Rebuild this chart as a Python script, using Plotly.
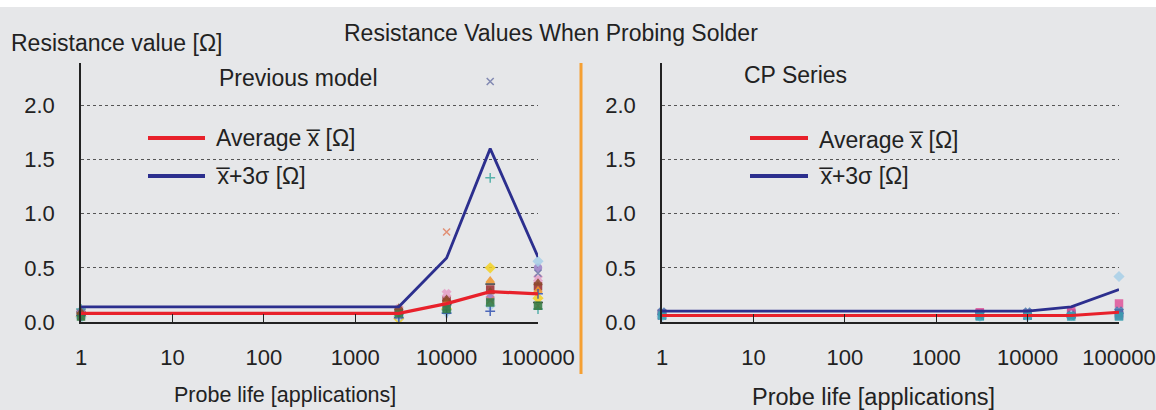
import plotly.graph_objects as go

# ---------------- data ----------------
probe_life = [1, 3000, 10000, 30000, 100000]
tick_vals = [1, 10, 100, 1000, 10000, 100000]
tick_text = ["1", "10", "100", "1000", "10000", "100000"]
y_ticks = [0.0, 0.5, 1.0, 1.5, 2.0]
y_tick_text = ["0.0", "0.5", "1.0", "1.5", "2.0"]

prev_avg = [0.08, 0.08, 0.17, 0.28, 0.26]
prev_3sigma = [0.14, 0.14, 0.59, 1.60, 0.60]
cp_avg = [0.06, 0.06, 0.06, 0.06, 0.09]
cp_3sigma = [0.10, 0.10, 0.10, 0.14, 0.30]

# individual probe readings, previous model
prev_p1 = [0.08, 0.10, 0.20, 0.30, 0.33]
prev_p2 = [0.06, 0.06, 0.18, 0.38, 0.29]
prev_p3 = [0.05, 0.03, 0.12, 0.50, 0.22]
prev_p4 = [0.09, 0.08, 0.16, 0.35, 0.18]
prev_p5 = [0.07, 0.12, 0.26, 0.25, 0.40]
prev_p6 = [0.10, 0.09, 0.14, 0.22, 0.50]
prev_p7 = [0.04, 0.05, 0.09, 0.15, 0.56]
prev_p8 = [0.12, 0.07, 0.11, 1.33, 0.12]
prev_p9 = [0.06, 0.04, 0.08, 0.10, 0.26]
prev_p10 = [0.05, 0.11, 0.83, 0.20, 0.15]
prev_p11 = [0.08, 0.06, 0.13, 2.22, 0.45]
prev_p12 = [0.05, 0.08, 0.12, 0.18, 0.15]
prev_p13 = [0.09, 0.13, 0.21, 0.28, 0.36]

# individual probe readings, CP series
cp_p1 = [0.07, 0.06, 0.06, 0.07, 0.08]
cp_p2 = [0.06, 0.08, 0.07, 0.08, 0.06]
cp_p3 = [0.08, 0.09, 0.08, 0.10, 0.17]
cp_p4 = [0.05, 0.05, 0.05, 0.06, 0.42]
cp_p5 = [0.09, 0.07, 0.09, 0.06, 0.10]
cp_p6 = [0.06, 0.05, 0.06, 0.05, 0.05]

prev_probes = [prev_p1, prev_p2, prev_p3, prev_p4, prev_p5, prev_p6, prev_p7,
               prev_p8, prev_p9, prev_p10, prev_p11, prev_p12, prev_p13]
prev_styles = [("#9b2d30", "square"), ("#f0962a", "triangle-up"), ("#f3d324", "diamond"),
               ("#1e1e1e", "line-ew-open"), ("#e7a0c8", "x"), ("#9a80c8", "circle"),
               ("#a8d0e8", "diamond"), ("#40a8a0", "cross-thin-open"), ("#3050b0", "cross-thin-open"),
               ("#e08060", "x-thin-open"), ("#7078a8", "x-thin-open"), ("#2f7a40", "square"),
               ("#8a4a2a", "triangle-up")]
cp_probes = [cp_p1, cp_p2, cp_p3, cp_p4, cp_p5, cp_p6]
cp_styles = [("#34408a", "square"), ("#7a5aa8", "square"), ("#e0559a", "square"),
             ("#a8d0e8", "diamond"), ("#4a78b0", "x"), ("#3aa0b0", "square")]

RED = "#e8212b"
BLUE = "#2c2f8e"
BG = "#e6e7e9"
FONT = "Liberation Sans, Arial, sans-serif"

fig = go.Figure()

for vals, (col, sym) in zip(prev_probes, prev_styles):
    fig.add_trace(go.Scatter(x=probe_life, y=vals, mode="markers", xaxis="x", yaxis="y",
                             marker=dict(color=col, symbol=sym, size=7, opacity=0.85,
                                         line=dict(color=col, width=1.5)),
                             showlegend=False, cliponaxis=False))
for vals, (col, sym) in zip(cp_probes, cp_styles):
    fig.add_trace(go.Scatter(x=probe_life, y=vals, mode="markers", xaxis="x2", yaxis="y2",
                             marker=dict(color=col, symbol=sym, size=7, opacity=0.85,
                                         line=dict(color=col, width=1.5)),
                             showlegend=False, cliponaxis=False))

fig.add_trace(go.Scatter(x=probe_life, y=prev_3sigma, mode="lines", xaxis="x", yaxis="y",
                         line=dict(color=BLUE, width=2.8), showlegend=False, cliponaxis=False))
fig.add_trace(go.Scatter(x=probe_life, y=prev_avg, mode="lines", xaxis="x", yaxis="y",
                         line=dict(color=RED, width=3.2), showlegend=False, cliponaxis=False))
fig.add_trace(go.Scatter(x=probe_life, y=cp_3sigma, mode="lines", xaxis="x2", yaxis="y2",
                         line=dict(color=BLUE, width=2.8), showlegend=False, cliponaxis=False))
fig.add_trace(go.Scatter(x=probe_life, y=cp_avg, mode="lines", xaxis="x2", yaxis="y2",
                         line=dict(color=RED, width=3.2), showlegend=False, cliponaxis=False))

W, H = 1156, 410
def px(x):
    return x / W
def py(y):
    return 1 - y / H

y_dom = [py(322), py(63)]
xaxis_common = dict(type="log", range=[0, 5], tickvals=tick_vals, ticktext=tick_text,
                    showline=True, linecolor="#222", linewidth=1.5, ticks="inside",
                    ticklen=8, tickcolor="#222", showgrid=False, zeroline=False,
                    automargin=False,
                    tickfont=dict(family=FONT, size=22, color="#222"), ticklabelstandoff=15)
yaxis_common = dict(range=[0, 2.39], tickvals=y_ticks, ticktext=y_tick_text,
                    showline=True, linecolor="#222", linewidth=1.5, ticks="",
                    showgrid=True, gridcolor="#555", griddash="dot", gridwidth=1,
                    zeroline=False, automargin=False,
                    tickfont=dict(family=FONT, size=22, color="#222"),
                    ticklabelstandoff=20, domain=y_dom)

fig.update_layout(
    width=W, height=H,
    margin=dict(l=0, r=0, t=0, b=0, pad=0, autoexpand=False),
    paper_bgcolor=BG, plot_bgcolor=BG,
    font=dict(family=FONT, color="#222"),
    xaxis=dict(domain=[px(81), px(538)], anchor="y", **xaxis_common),
    yaxis=dict(anchor="x", **yaxis_common),
    xaxis2=dict(domain=[px(662), px(1119)], anchor="y2", **xaxis_common),
    yaxis2=dict(anchor="x2", **yaxis_common),
)

shapes = [
    dict(type="rect", xref="paper", yref="paper", x0=0, x1=1, y0=py(7), y1=1,
         fillcolor="white", line=dict(width=0), layer="below"),
    dict(type="line", xref="paper", yref="paper", x0=px(581), x1=px(581), y0=py(374), y1=py(63),
         line=dict(color="#f5a033", width=3)),
]
# legend samples
for x0, x1 in [(148, 205), (750, 808)]:
    shapes.append(dict(type="line", xref="paper", yref="paper", x0=px(x0), x1=px(x1),
                       y0=py(138), y1=py(138), line=dict(color=RED, width=4)))
    shapes.append(dict(type="line", xref="paper", yref="paper", x0=px(x0), x1=px(x1),
                       y0=py(176), y1=py(176), line=dict(color=BLUE, width=4)))
fig.update_layout(shapes=shapes)

def ann(text, x, y, anchor="left", size=23):
    return dict(text=text, xref="paper", yref="paper", x=px(x), y=py(y), xanchor=anchor,
                yanchor="middle", showarrow=False, font=dict(family=FONT, size=size, color="#222"))

annotations = [
    ann("Resistance Values When Probing Solder", 551, 33, "center", 23),
    ann("Resistance value [\u03a9]", 9, 43, "left", 23),
    ann("Previous model", 298, 78, "center", 23),
    ann("CP Series", 795, 75, "center", 23),
    ann("Average x\u0305 [\u03a9]", 214, 138, "left", 23),
    ann("x\u0305+3\u03c3 [\u03a9]", 214, 176, "left", 23),
    ann("Average x\u0305 [\u03a9]", 817, 140, "left", 23),
    ann("x\u0305+3\u03c3 [\u03a9]", 817, 176, "left", 23),
    ann("Probe life [applications]", 285, 395, "center", 21.5),
    ann("Probe life [applications]", 873, 397, "center", 23.5),
]
fig.update_layout(annotations=annotations)

post = ("var s=document.createElement('style');"
        "s.textContent='html,body{margin:0!important;padding:0!important;overflow:hidden!important;}';"
        "document.head.appendChild(s);")
fig.write_html("out.html", config={"displayModeBar": False, "responsive": False},
               post_script=post)
